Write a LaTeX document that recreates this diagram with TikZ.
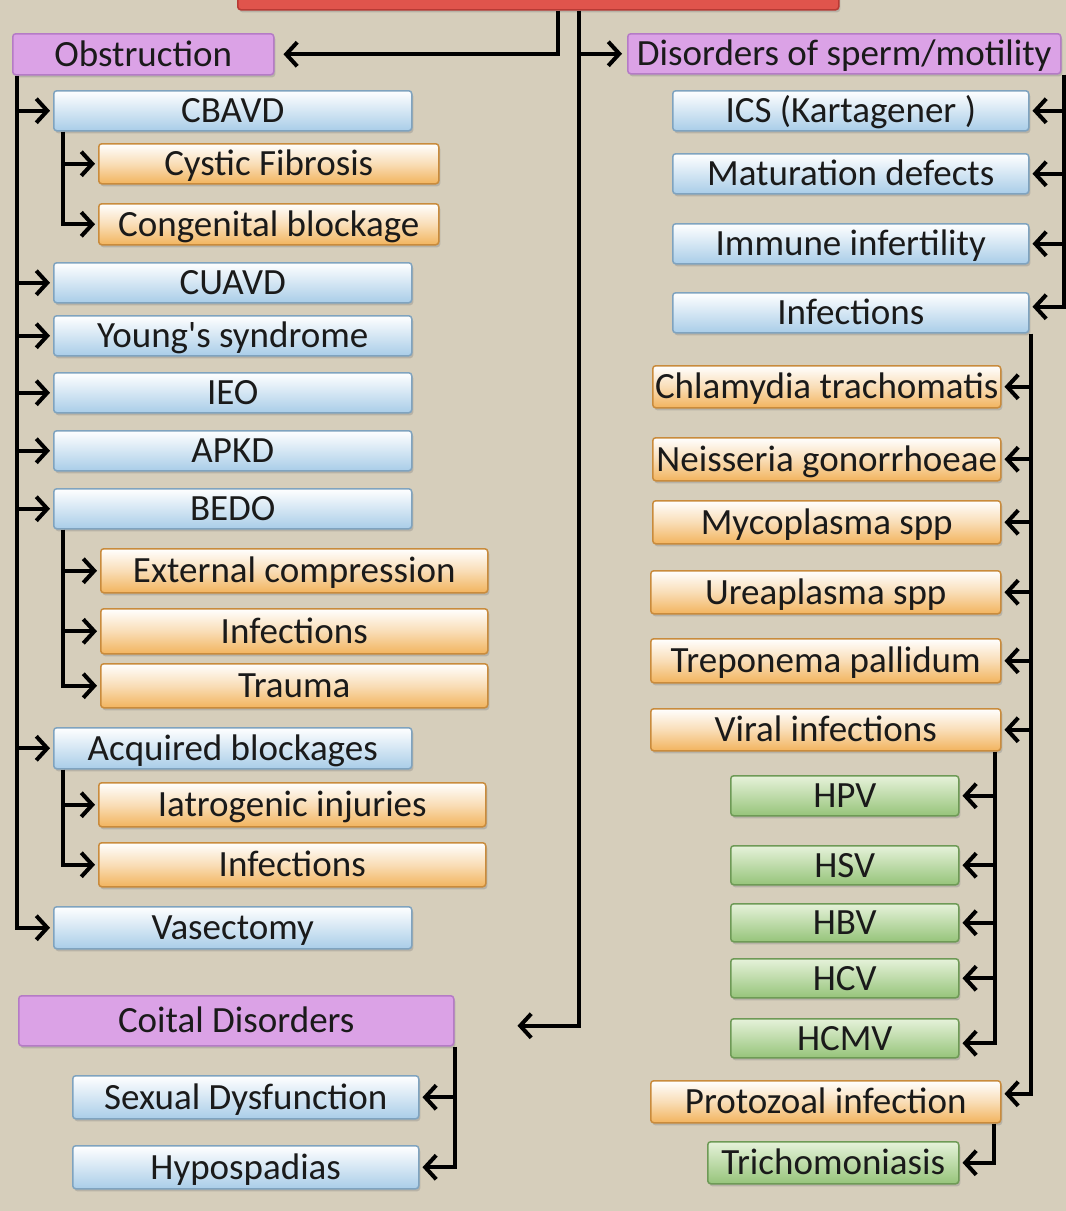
\documentclass[tikz,border=0pt]{standalone}
\usepackage{fontspec}
\setmainfont{Carlito}[Ligatures=TeXOff]
\usetikzlibrary{arrows.meta,shadows,calc}

\definecolor{linen}{HTML}{D6CEBB}
\definecolor{ink}{HTML}{1A1A1A}
\definecolor{bluefill}{HTML}{A9CDE8}
\definecolor{blueedge}{HTML}{7FA3BF}
\definecolor{orangefill}{HTML}{F2B45E}
\definecolor{orangeedge}{HTML}{C98B3C}
\definecolor{greenfill}{HTML}{96C47A}
\definecolor{greentop}{HTML}{E6F2DA}
\definecolor{greenedge}{HTML}{6E9A56}
\definecolor{purplefill}{HTML}{DBA2E6}
\definecolor{purpleedge}{HTML}{B57BC6}
\definecolor{redfill}{HTML}{E0544C}
\definecolor{rededge}{HTML}{B83A34}

% box from its top-left (x1,y1) to its bottom-right (x2,y2)
\newcommand{\placebox}[7]{%
  \node[#6, anchor=north west, minimum width=#4pt-#2pt, minimum height=#5pt-#3pt]
    (#1) at (#2,#3) {#7};}

\tikzset{
  box/.style={rounded corners=3pt, line width=1.5pt, inner sep=0pt, text=ink,
    font=\fontsize{37}{40}\selectfont, text height=24pt, text depth=0pt,
    drop shadow={shadow xshift=1.5pt, shadow yshift=-2.5pt, opacity=0.35}},
  bluebox/.style={box, draw=blueedge, top color=white, bottom color=bluefill},
  orangebox/.style={box, draw=orangeedge, top color=white, bottom color=orangefill,
    middle color=white!55!orangefill},
  greenbox/.style={box, draw=greenedge, top color=greentop, bottom color=greenfill},
  purplebox/.style={box, draw=purpleedge, fill=purplefill},
  redbox/.style={box, draw=rededge, fill=redfill},
  conn/.style={line width=4pt, draw=black},
  arr/.style={conn, -{Straight Barb[length=11pt,width=24pt]}, shorten >=3pt},
}

\begin{document}
\begin{tikzpicture}[x=1pt,y=-1pt]
\clip (0,0) rectangle (1066,1211);
\fill[linen] (0,0) rectangle (1066,1211);

% top of the root box
\placebox{root}{237}{-40}{838}{9}{redbox}{}

% obstruction branch
\placebox{obs}{12}{33}{273}{74}{purplebox}{Obstruction}
\placebox{cbavd}{53}{90}{411}{130}{bluebox}{CBAVD}
\placebox{cf}{98}{143}{438}{183}{orangebox}{Cystic Fibrosis}
\placebox{cong}{98}{203}{438}{244}{orangebox}{Congenital blockage}
\placebox{cuavd}{53}{262}{411}{302}{bluebox}{CUAVD}
\placebox{young}{53}{315}{411}{355}{bluebox}{Young's syndrome}
\placebox{ieo}{53}{372}{411}{412}{bluebox}{IEO}
\placebox{apkd}{53}{430}{411}{470}{bluebox}{APKD}
\placebox{bedo}{53}{488}{411}{528}{bluebox}{BEDO}
\placebox{ext}{100}{548}{487}{592}{orangebox}{External compression}
\placebox{infa}{100}{608}{487}{653}{orangebox}{Infections}
\placebox{trauma}{100}{663}{487}{707}{orangebox}{Trauma}
\placebox{acq}{53}{727}{411}{768}{bluebox}{Acquired blockages}
\placebox{iat}{98}{782}{485}{826}{orangebox}{Iatrogenic injuries}
\placebox{infb}{98}{842}{485}{886}{orangebox}{Infections}
\placebox{vas}{53}{906}{411}{948}{bluebox}{Vasectomy}

% coital branch
\placebox{coit}{18}{995}{453}{1045}{purplebox}{Coital Disorders}
\placebox{sex}{72}{1075}{418}{1118}{bluebox}{Sexual Dysfunction}
\placebox{hypo}{72}{1145}{418}{1188}{bluebox}{Hypospadias}

% sperm / motility branch
\placebox{dis}{627}{33}{1060}{73}{purplebox}{Disorders of sperm/motility}
\placebox{ics}{672}{90}{1028}{130}{bluebox}{ICS (Kartagener )}
\placebox{mat}{672}{153}{1028}{193}{bluebox}{Maturation defects}
\placebox{imm}{672}{223}{1028}{263}{bluebox}{Immune infertility}
\placebox{infr}{672}{292}{1028}{332}{bluebox}{Infections}
\placebox{chl}{652}{365}{1000}{407}{orangebox}{Chlamydia trachomatis}
\placebox{nei}{652}{437}{1000}{480}{orangebox}{Neisseria gonorrhoeae}
\placebox{myc}{652}{500}{1000}{543}{orangebox}{Mycoplasma spp}
\placebox{ure}{650}{570}{1000}{613}{orangebox}{Ureaplasma spp}
\placebox{tre}{650}{638}{1000}{682}{orangebox}{Treponema pallidum}
\placebox{vir}{650}{708}{1000}{750}{orangebox}{Viral infections}
\placebox{hpv}{730}{775}{958}{815}{greenbox}{HPV}
\placebox{hsv}{730}{845}{958}{884}{greenbox}{HSV}
\placebox{hbv}{730}{903}{958}{941}{greenbox}{HBV}
\placebox{hcv}{730}{958}{958}{997}{greenbox}{HCV}
\placebox{hcmv}{730}{1018}{958}{1057}{greenbox}{HCMV}
\placebox{pro}{650}{1080}{1000}{1122}{orangebox}{Protozoal infection}
\placebox{tri}{707}{1141}{958}{1183}{greenbox}{Trichomoniasis}

% connectors from the root
\coordinate (lt) at ([xshift=19.5pt]root.south);
\coordinate (rt) at ([xshift=40.5pt]root.south);
\coordinate (coitin) at ([xshift=60pt,yshift=-5pt]coit.east);
\draw[arr, shorten >=9pt] (lt) |- (obs.east);
\draw[arr] (rt) |- (coitin);
\draw[arr, shorten >=5pt] (rt |- dis.west) -- (dis.west);

% obstruction tree
\coordinate (ot) at ([xshift=5pt]obs.south west);
\draw[arr] (ot) |- (vas.west);
\foreach \n in {cbavd,cuavd,young,ieo,apkd,bedo,acq}
  \draw[arr] (ot |- \n.west) -- (\n.west);
\coordinate (ct) at ([xshift=10pt]cbavd.south west);
\draw[arr] (ct) |- (cong.west);
\draw[arr] (ct |- cf.west) -- (cf.west);
\coordinate (bt) at ([xshift=10pt]bedo.south west);
\draw[arr] (bt) |- (trauma.west);
\foreach \n in {ext,infa}
  \draw[arr] (bt |- \n.west) -- (\n.west);
\coordinate (at) at ([xshift=10pt]acq.south west);
\draw[arr] (at) |- (infb.west);
\draw[arr] (at |- iat.west) -- (iat.west);

% coital tree
\coordinate (kt) at (coit.south east);
\draw[arr] (kt) |- (hypo.east);
\draw[arr] (kt |- sex.east) -- (sex.east);

% sperm / motility tree
\coordinate (dt) at ([xshift=2pt]dis.south east);
\draw[arr] (dt) |- ([yshift=6pt]infr.east);
\foreach \n in {ics,mat,imm}
  \draw[arr] (dt |- \n.east) -- (\n.east);
\coordinate (it) at ([xshift=1pt]infr.south east);
\draw[arr] (it) |- ([yshift=8pt]pro.east);
\foreach \n in {chl,nei,myc,ure,tre,vir}
  \draw[arr] (it |- \n.east) -- (\n.east);
\coordinate (vt) at ([xshift=-7pt]vir.south east);
\draw[arr] (vt) |- ([yshift=-5pt]hcmv.east);
\foreach \n in {hpv,hsv,hbv,hcv}
  \draw[arr] (vt |- \n.east) -- (\n.east);
\coordinate (pt) at ([xshift=-8pt]pro.south east);
\draw[arr] (pt) |- (tri.east);
\end{tikzpicture}
\end{document}
